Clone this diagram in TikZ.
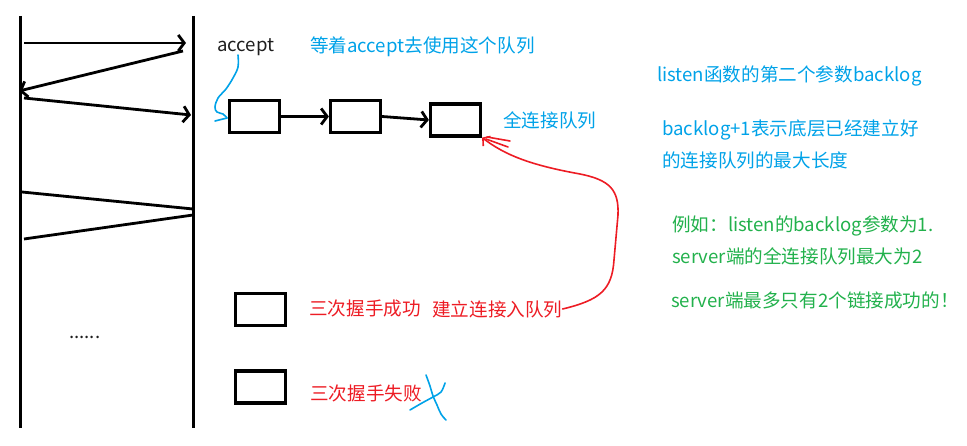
\documentclass[tikz,border=0pt]{standalone}
\usepackage{fontspec}
\setmainfont{Noto Sans CJK SC}
\usetikzlibrary{arrows.meta}
\definecolor{sblue}{RGB}{0,162,232}
\definecolor{sred}{RGB}{237,28,36}
\definecolor{sgreen}{RGB}{34,177,76}
\definecolor{sink}{RGB}{30,30,30}
\tikzset{
  life/.style={line width=3pt,black},
  msg/.style={line width=2.8pt,black},
  msgarr/.style={msg,-{Straight Barb[length=6pt,width=16pt,line width=2.8pt]}},
  qbox/.style={draw=black,line width=3.2pt,minimum width=50pt,minimum height=32pt,inner sep=0pt},
  txt/.style={anchor=west,inner sep=0pt,font=\fontsize{18.6}{22}\selectfont},
  bluetxt/.style={txt,text=sblue},
  redtxt/.style={txt,text=sred},
  greentxt/.style={txt,text=sgreen},
  scribble/.style={line width=1.6pt,line cap=round,line join=round}
}
\begin{document}
\begin{tikzpicture}[x=1pt,y=-1pt]
\useasboundingbox (0,0) rectangle (967,446);
% lifelines
\coordinate (Lt) at (20,16); \coordinate (Lb) at (20,428);
\coordinate (Rt) at (193,16); \coordinate (Rb) at (193,428);
\draw[life] (Lt) -- (Lb);
\draw[life] (Rt) -- (Rb);
% messages
\coordinate (m1a) at (24,43);  \coordinate (m1b) at (186,43);
\coordinate (m2a) at (183,51); \coordinate (m2b) at (19,91);
\coordinate (m3a) at (24,98);  \coordinate (m3b) at (191,115);
\coordinate (m4a) at (22,192); \coordinate (m4b) at (193,209);
\coordinate (m5a) at (193,215); \coordinate (m5b) at (24,239);
\draw[msgarr] (m1a) -- (m1b);
\draw[msgarr] (m2a) -- (m2b);
\draw[msgarr] (m3a) -- (m3b);
\draw[msg] (m4a) -- (m4b);
\draw[msg] (m5a) -- (m5b);
\node[txt,text=sink] (dots) at (69,337) {......};
% queue
\node[qbox] (q1) at (254.5,116.5) {};
\node[qbox] (q2) at (355.5,116.5) {};
\node[qbox] (q3) at (455.5,120) {};
\draw[msgarr] (q1.east) -- (q2.west);
\draw[msgarr] (q2.east) -- (q3.west);
\node[qbox] (q4) at (260.5,309.5) {};
\node[qbox] (q5) at (260.5,387) {};
% texts
\node[txt,text=sink] (acc) at (217,47) {accept};
\node[bluetxt] (wait) at (310,47) {等着accept去使用这个队列};
\node[bluetxt] (full) at (503,120) {全连接队列};
\node[bluetxt] (l1) at (657,76) {listen函数的第二个参数backlog};
\node[bluetxt] (l2) at (662,130) {backlog+1表示底层已经建立好};
\node[bluetxt] (l3) at (662,160) {的连接队列的最大长度};
\node[greentxt] (g1) at (672,226) {例如：listen的backlog参数为1.};
\node[greentxt] (g2) at (672,256) {server端的全连接队列最大为2};
\node[greentxt] (g3) at (671,300) {server端最多只有2个链接成功的！};
\node[redtxt] (ok) at (309,308) {三次握手成功};
\node[redtxt] (enq) at (432,309) {建立连接入队列};
\node[redtxt] (fail) at (310,393) {三次握手失败};
% blue curly from accept to first box
\draw[scribble,sblue] plot[smooth,tension=0.6] coordinates {(238,55) (238,67) (233,78) (226,89) (218,98) (215,107) (217,112) (223,114) (227,118)};
\draw[scribble,sblue] (227,118) -- (215,121);
% red curve into the queue
\draw[scribble,sred,-{Straight Barb[length=5pt,width=12pt,line width=1.6pt]}]
  (enq.east) .. controls (600,300) and (612,290) .. (614,260)
  -- (618,215) .. controls (619,190) and (610,180) .. (580,174)
  .. controls (530,165) and (505,155) .. (q3.south east);
\draw[scribble,sred] (486,139) -- (508,147);
\draw[scribble,sred] (487,137) -- (510,141);
% blue X
\draw[scribble,sblue] plot[smooth,tension=0.6] coordinates {(426,375) (430,386) (433,396) (437,405) (441,414) (446,420)};
\draw[scribble,sblue] plot[smooth,tension=0.6] coordinates {(445,383) (441,392) (433,397) (422,403) (410,410)};
\end{tikzpicture}
\end{document}
